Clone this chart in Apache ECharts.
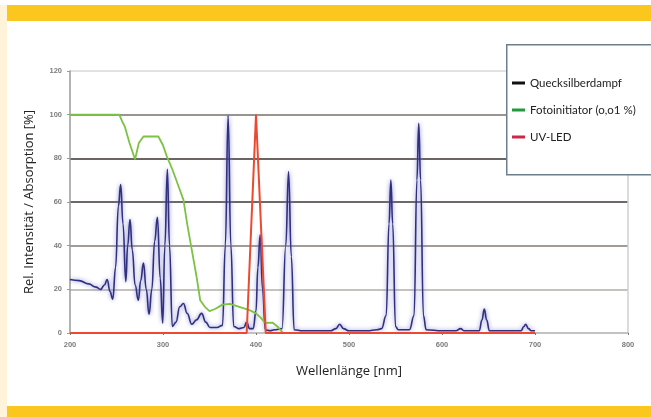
<!DOCTYPE html>
<html><head><meta charset="utf-8">
<script src="https://cdn.jsdelivr.net/npm/echarts@6/dist/echarts.min.js"></script>
<style>html,body{margin:0;padding:0;background:#fff}#c{width:651px;height:417px}</style>
</head><body><div id="c"></div>
<script>
// Quecksilberdampf (mercury vapour) spectrum: [wavelength nm, rel. intensity %]
const mercury = [[200,24.5],[210,24],[220,22.5],[228,21],[233,20],[237,22],[240,24.5],[243,19],[246,15.5],[249,30],[252,58],[254.5,68],[257,50],[260,23.5],[262,40],[264.5,52],[267,38],[270,22],[273.5,15],[276,24],[279,32],[282,20],[285,8.5],[288,20],[291,42],[294,53],[297,25],[299.7,4.5],[302,40],[304.7,75],[307,40],[310,3],[314,5],[318,12],[322,13.5],[326,9],[331,4],[336,6],[341.5,9],[346,5],[350.5,2.5],[358,2.5],[364,3.5],[367,40],[370,99.5],[373,40],[376,3],[382,2],[387,2.5],[390,5],[393,2],[397,2],[400,10],[402,30],[404.5,45],[407,20],[410,1.5],[415,1],[420,1.5],[428,2],[432,40],[435,74],[438,35],[441,1.5],[450,1],[480,1],[486,2],[490,4],[494,2],[500,1],[520,1],[530,1.5],[535,2],[540,8],[543,50],[545,70],[547,50],[550,3],[553,1.5],[565,1.5],[570,8],[573,70],[575,96],[577,70],[580,8],[583,1.5],[600,1],[615,1],[620,2],[624,1],[640,1],[643,6],[645.5,11],[648,6],[651,1],[670,1],[685,1],[688,3],[690,4],[693,2],[696,1],[700,1]];
// Fotoinitiator (0,01 %) absorption
const photoinitiator = [[200,100],[253,100],[256,97],[259,94.5],[264,87],[270,79.5],[274,87],[279,90],[295,90],[300,86],[304,81],[310,75],[316,68],[322,61],[326,50],[331,38],[336,26],[340,15],[345,12],[350,10],[356,11],[364,13],[372,13.3],[382,12],[393,10.5],[400,9],[405,7],[410,4.6],[418,4.7],[423,3],[429,0]];
// UV-LED emission
const uvled = [[200,0],[390,0],[400,100],[410.5,0],[700,0]];
const seriesNames = ['Quecksilberdampf','Fotoinitiator (o,o1 %)','UV-LED'];
const legendColors = ['#111111','#1f9a3c','#d1244a'];
const xTicks = {min:200,max:800,interval:100};
const yTicks = {min:0,max:120,interval:20};

const chart = echarts.init(document.getElementById('c'), null, {renderer:'canvas'});
const lblStyle = {fontSize:7.5,color:'#7c7c7c',fontWeight:'bold',fontFamily:'Liberation Sans'};
chart.setOption({
  animation:false,
  backgroundColor:'#ffffff',
  graphic:[
    {type:'rect',left:0,top:5,shape:{width:7,height:412},style:{fill:'#fff3da'},silent:true},
    {type:'rect',left:7,top:5,shape:{width:644,height:16},style:{fill:'#fbc61e'},silent:true},
    {type:'rect',left:7,top:406,shape:{width:644,height:11},style:{fill:'#fbc61e'},silent:true},
    {type:'rect',left:506,top:44,z:10,shape:{width:160,height:130},style:{fill:'#ffffff',stroke:'#6d7f8c',lineWidth:1.5},silent:true}
  ],
  grid:{left:70,right:23,top:71,bottom:84},
  legend:{
    orient:'vertical',left:507,top:71,z:20,
    itemWidth:13,itemHeight:3,itemGap:13,
    textStyle:{fontSize:11.5,color:'#222',fontFamily:'Lato',lineHeight:14},
    data:seriesNames.map((n,i)=>({name:n,icon:'rect',itemStyle:{color:legendColors[i]},lineStyle:{color:legendColors[i]}}))
  },
  xAxis:{type:'value',min:xTicks.min,max:xTicks.max,interval:xTicks.interval,
    name:'Wellenlänge [nm]',nameLocation:'middle',nameGap:32,
    nameTextStyle:{fontSize:13,color:'#222',fontFamily:'Open Sans'},
    axisLine:{show:true,lineStyle:{color:'#bbbbbb',width:1.5}},
    axisTick:{show:true,length:2,lineStyle:{color:'#777'}},
    axisLabel:Object.assign({margin:8},lblStyle),
    splitLine:{show:false}},
  yAxis:[{type:'value',min:yTicks.min,max:yTicks.max,interval:yTicks.interval,
    name:'Rel. Intensität / Absorption [%]',nameLocation:'middle',nameGap:34,
    nameTextStyle:{fontSize:13,color:'#222',fontFamily:'Open Sans'},
    axisLine:{show:true,lineStyle:{color:'#9a9a9a',width:1.5}},
    axisTick:{show:true,length:3,lineStyle:{color:'#9a9a9a'}},
    axisLabel:Object.assign({margin:8},lblStyle),
    splitLine:{show:true,lineStyle:{width:2,color:['#dddddd','#c6c2be','#a29c98','#6e6866','#6a6462','#9a9490','#e2e2e2']}}},
   {type:'value',min:yTicks.min,max:yTicks.max,interval:yTicks.interval,position:'right',
    axisLine:{show:true,lineStyle:{color:'#d0d0d0',width:1.5}},axisTick:{show:false},axisLabel:{show:false},splitLine:{show:false}}],
  series:[
    {name:seriesNames[0],type:'line',data:mercury,smooth:0.45,smoothMonotone:'x',showSymbol:false,z:3,
      lineStyle:{color:'#30307e',width:1.6,shadowColor:'rgba(120,120,210,0.95)',shadowBlur:4},itemStyle:{color:legendColors[0]}},
    {name:seriesNames[1],type:'line',data:photoinitiator,showSymbol:false,z:4,
      lineStyle:{color:'#7cc243',width:1.8},itemStyle:{color:legendColors[1]}},
    {name:seriesNames[2],type:'line',data:uvled,showSymbol:false,z:5,
      lineStyle:{color:'#ec4a30',width:2},itemStyle:{color:legendColors[2]}}
  ]
});
</script></body></html>
